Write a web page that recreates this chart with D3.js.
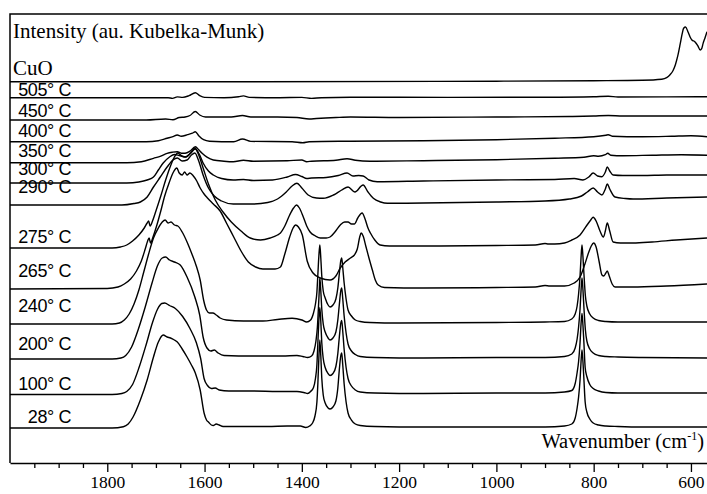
<!DOCTYPE html>
<html>
<head>
<meta charset="utf-8">
<script src="https://cdn.jsdelivr.net/npm/d3@7"></script>
<style>
  html, body { margin: 0; padding: 0; background: #fff; }
  svg { display: block; }
  .serif { font-family: "Liberation Serif", "Times New Roman", serif; }
  .sans { font-family: "Liberation Sans", Arial, sans-serif; }
</style>
</head>
<body>
<div id="chart"></div>
<script>
// Spectra: [wavenumber (cm-1), intensity above own baseline]
const cuo = [[2000,0],[1500,0],[1000,0.5],[800,1],[700,1.5],[660,2.5],[650,4],[643,7],[637,11],[632,17],[627,26],[622,38],[618,48],[615,53.5],[611,54.7],[606,49.7],[602,45],[598,41.7],[592,40],[586,36],[581,31.7],[578,33],[575,38.3],[571,44],[567,50]];
const t505 = [[2000,0],[1700,0],[1675,0],[1666,-0.7],[1656,0.8],[1645,0.3],[1632,2],[1619,5],[1610,2],[1600,0.3],[1560,0],[1530,1],[1520,1.8],[1508,0.3],[1450,0],[1400,0.3],[1380,-0.7],[1360,0],[1300,0.5],[1100,0.3],[900,0.5],[800,1],[770,1.5],[750,0.7],[650,0.8],[567,1]];
const t450 = [[2000,0],[1720,0],[1680,1],[1665,0.3],[1652,2.5],[1640,3],[1630,4.5],[1619,8.5],[1610,5],[1598,3],[1580,3],[1545,3],[1522,4.5],[1505,3],[1450,3],[1410,2.5],[1385,1],[1370,1.5],[1330,2.5],[1300,3],[1200,2.5],[1000,3],[850,3.5],[800,4],[770,4.5],[740,4],[650,4],[567,4]];
const t400 = [[2000,0],[1720,0],[1695,1],[1677,3.4],[1665,5],[1656,6.7],[1648,5.5],[1635,7],[1625,8.5],[1619,10],[1612,6],[1602,2],[1590,0.5],[1540,0],[1522,2.7],[1505,0.3],[1420,0],[1398,-1],[1385,0],[1300,0.5],[1150,1],[1000,2],[880,3.5],[800,5],[775,6.5],[770,7],[762,5.5],[700,5],[640,5.5],[600,6],[567,5]];
const t350 = [[2000,0],[1760,0],[1730,1],[1705,4.4],[1690,6.5],[1677,9.4],[1666,10.5],[1656,11],[1648,9.5],[1640,9.4],[1630,11.5],[1619,16],[1612,13],[1605,9.4],[1595,5.5],[1582,2.7],[1560,1.5],[1541,1],[1520,2.5],[1500,1.5],[1430,2],[1400,2.7],[1390,1],[1380,1.5],[1330,2.5],[1307,4],[1290,2.5],[1260,1.5],[1150,2],[1000,3],[880,4.5],[820,5.5],[800,7],[790,6.5],[776,8],[771,9.5],[765,7.5],[740,7],[680,7.5],[620,8],[567,7.5]];
const t300 = [[2000,0],[1760,0],[1735,1],[1718,3],[1705,6],[1695,13],[1685,20],[1672,26],[1662,28.5],[1652,27.5],[1640,26],[1630,29],[1619,34],[1611,29],[1603,20],[1592,12],[1582,8],[1565,4.5],[1541,3],[1520,3.5],[1500,2.5],[1460,3],[1430,6],[1413,8.5],[1400,6.5],[1390,4.5],[1380,5],[1350,5.5],[1325,7.5],[1307,10],[1295,7],[1283,7.5],[1274,7],[1262,3],[1245,1.3],[1150,2],[1000,3],[880,3.5],[840,4.5],[822,3],[810,6],[801,10],[792,7],[783,6.3],[776,11],[772,16],[767,12],[760,8],[740,7.5],[700,7.5],[650,8],[567,8]];
const t290 = [[2000,0],[1770,0],[1745,1.5],[1732,3],[1718,8],[1705,18],[1691,28],[1677,38],[1665,45],[1656,47],[1646,44],[1636,45],[1627,50],[1620,52],[1612,44],[1603,30],[1592,17],[1580,9],[1565,4],[1541,1],[1500,1],[1470,2.5],[1450,6],[1432,13],[1420,19],[1410,21.7],[1400,17],[1387,10],[1370,7],[1356,6.7],[1335,10],[1318,15],[1305,18],[1291,13],[1274,20],[1264,13],[1253,6.7],[1238,3],[1224,1.7],[1150,2],[1000,3],[900,4],[850,6],[825,9],[813,13],[801,17],[792,13],[783,10],[776,16],[772,21],[767,16],[756,8],[735,6.5],[719,6],[650,7],[567,8]];
const t275 = [[2000,0],[1790,0],[1773,1],[1760,3],[1748,7],[1735,13],[1724,20],[1718,25],[1715,27],[1712,22],[1707,27],[1700,37],[1690,52],[1680,68],[1670,82],[1662,91],[1655,95],[1647,92],[1638,91],[1629,95],[1620,100],[1612,93],[1603,80],[1592,64],[1578,48],[1562,36],[1545,26],[1525,17],[1506,10],[1485,8],[1465,10],[1450,13],[1444,15],[1435,22],[1425,33],[1417,40],[1411,43],[1405,40],[1397,31],[1390,22],[1383,16],[1372,12],[1362,10],[1350,10],[1342,11],[1332,16],[1321,23],[1312,26],[1305,26],[1298,24],[1292,24],[1285,30],[1276,35],[1270,29],[1264,20],[1259,15],[1250,8],[1239,3],[1220,2],[1136,2],[1000,2.5],[920,3],[900,4.5],[893,4],[880,4],[860,5],[845,8],[828,13],[815,22],[806,28],[801,30.7],[795,27],[787,17],[780,11],[776,17],[772,25],[767,17],[760,6],[745,5],[719,5],[680,6],[630,8],[567,10]];
const t265 = [[2000,0],[1800,0.5],[1778,2],[1765,5],[1752,10],[1740,18],[1730,28],[1722,40],[1717,48],[1714,51],[1711,46],[1706,52],[1698,64],[1690,78],[1682,93],[1673,106],[1665,116],[1657,121],[1652,116],[1646,114],[1641,117],[1636,114],[1630,116],[1623,113],[1616,108],[1609,101],[1601,95],[1594,91],[1582,85],[1568,78],[1555,66],[1540,52],[1525,38],[1510,27],[1495,22],[1480,20],[1455,20],[1444,22],[1435,35],[1425,52],[1418,61],[1413,64],[1407,62],[1399,54],[1389,28],[1377,16],[1362,11],[1342,9],[1330,13],[1321,21],[1311,27],[1300,31],[1292,34],[1286,40],[1281,52],[1278,56],[1274,53],[1268,42],[1262,31],[1255,19],[1249,9],[1243,4],[1230,1.5],[1150,1],[1000,1.5],[920,2],[900,3.5],[890,3],[860,3],[840,6],[828,12],[818,25],[810,37],[805,43],[800,46],[795,42],[789,28],[783,14],[779,13],[775,16],[772,18],[768,13],[762,5],[756,2],[720,2],[650,3],[567,5]];
const t240 = [[2000,0],[1790,0],[1775,1],[1765,4],[1755,10],[1745,20],[1735,34],[1725,52],[1715,70],[1705,86],[1695,96],[1687,102],[1681,104],[1675,101],[1669,102],[1662,99],[1655,98],[1646,92],[1636,82],[1626,70],[1617,58],[1609,44],[1602,24],[1596,14],[1590,11],[1583,11],[1576,9],[1568,6],[1555,4],[1520,3],[1480,3],[1450,4.5],[1420,5.7],[1400,4],[1390,2],[1382,4],[1376,11],[1372,20],[1369,32],[1367,50],[1365,68],[1363,79],[1361,66],[1359,48],[1356,33],[1352,26],[1346,19],[1342,17],[1336,19],[1330,25],[1326,36],[1323,50],[1320,63],[1318,66],[1316,57],[1313,41],[1309,25],[1305,14],[1298,8],[1290,4],[1280,2.5],[1260,1.5],[1200,1],[1000,1.5],[900,2],[860,2.5],[845,5],[838,10],[834,18],[831,30],[828,48],[826,66],[824,79],[822,67],[820,50],[817,28],[814,18],[808,10],[801,6],[790,3.5],[775,2.5],[750,2],[700,2],[567,2]];
const t200 = [[2000,0],[1790,0],[1772,1],[1762,3.5],[1750,12],[1736,30],[1722,52],[1708,76],[1697,93],[1687,101],[1680,102],[1672,99],[1662,97],[1650,94],[1636,82],[1620,62],[1610,44],[1603,22],[1595,11],[1587,8],[1580,9],[1572,6],[1560,3.5],[1500,3],[1440,3],[1410,3.5],[1398,2.5],[1388,1.5],[1380,3],[1375,8],[1371,18],[1368,32],[1366,50],[1364,70],[1363,81],[1361,68],[1359,50],[1356,35],[1352,27],[1346,21],[1342,19],[1336,21],[1330,27],[1326,39],[1323,54],[1320,68],[1318,71],[1316,61],[1313,43],[1309,26],[1305,15],[1298,8],[1290,4.5],[1280,2.5],[1250,1.5],[1150,1],[1000,1.5],[900,1.5],[860,2.5],[845,5],[838,11],[834,20],[831,32],[828,50],[826,68],[824,81],[822,69],[820,51],[817,29],[814,18],[808,10],[801,6],[790,3.5],[775,2.5],[750,2],[700,1.5],[567,1]];
const t100 = [[2000,0],[1790,0],[1770,1],[1760,3],[1748,10],[1734,28],[1720,50],[1707,72],[1697,85],[1688,91],[1682,91.5],[1672,89],[1660,86],[1645,78],[1630,66],[1617,52],[1608,36],[1601,16],[1594,9],[1586,6],[1578,6.5],[1570,4.5],[1550,3.5],[1500,3.5],[1450,3],[1410,3],[1396,2],[1388,1],[1382,3],[1376,7],[1372,16],[1369,30],[1367,52],[1365,74],[1363,87],[1361,73],[1359,52],[1356,36],[1352,27],[1346,21],[1342,19],[1336,21],[1330,28],[1326,41],[1323,57],[1320,71],[1318,74],[1316,64],[1313,45],[1309,27],[1305,16],[1298,8.5],[1290,4.5],[1280,2.5],[1250,1.5],[1150,1],[1000,1.5],[900,1.5],[860,2.5],[845,4],[838,11],[834,22],[831,33],[828,52],[826,70],[824,81],[822,69],[820,51],[817.5,27],[814,18],[808,10],[801,6],[790,3.5],[775,2],[750,1.5],[700,1.5],[567,1.5]];
const t28 = [[2000,0],[1790,0],[1767,1.3],[1757,4],[1747,11],[1732,28],[1718,48],[1705,71],[1695,86],[1685,93],[1677,91],[1670,90],[1662,88],[1656,86],[1646,79],[1636,71],[1627,63],[1619,55],[1609,38],[1601,15],[1596,8],[1592,6],[1586,3],[1582,2.5],[1576,4],[1570,3],[1562,1.5],[1500,1.5],[1470,1.5],[1430,2],[1403,2],[1392,0.5],[1384,2],[1378,5],[1373,12],[1369,26],[1367,45],[1365,70],[1363,88],[1361,72],[1359,50],[1356,33],[1352,25],[1346,20],[1342,19],[1336,21],[1330,27],[1326,40],[1323,58],[1320,72],[1318,75],[1316,64],[1313,44],[1309,26],[1305,15],[1298,8],[1290,4],[1280,2.5],[1250,1.5],[1150,1],[1000,1],[900,1],[860,2],[845,4],[838,10],[834,20],[831,31],[828,48],[826,66],[824,78],[822,66],[820,48],[817.5,26],[814,16],[808,9],[801,5],[790,3],[775,2],[750,1.5],[700,1],[567,1]];

// Stack order, label text and vertical offset of each spectrum (same units as intensity)
const names = ['CuO', '505° C', '450° C', '400° C', '350° C', '300° C', '290° C', '275° C', '265° C', '240° C', '200° C', '100° C', '28° C'];
const offsets = [381.3, 365.3, 343, 321.3, 300.3, 280, 258, 215, 174, 139, 104, 68.5, 35];
const series = [cuo, t505, t450, t400, t350, t300, t290, t275, t265, t240, t200, t100, t28];

const majorTicks = [1800, 1600, 1400, 1200, 1000, 800, 600];
const minorTicks = [1950, 1900, 1850, 1750, 1700, 1650, 1550, 1500, 1450, 1350, 1300, 1250, 1150, 1100, 1050, 950, 900, 850, 750, 700, 650];

// Layout
const width = 707, height = 494;
const plotLeft = 10, plotTop = 14, plotBottom = 463;
// how far each temperature label's baseline sits above its spectrum
const labelLift = [0, 1.7, 3, 4.7, 5.7, 8, 12, 5, 12, 12, 9, 4.5, 5];

const svg = d3.select('#chart')
  .append('svg')
  .attr('width', width)
  .attr('height', height);

const x = d3.scaleLinear().domain([2000, 567]).range([plotLeft, width]);
const y = d3.scaleLinear().domain([0, plotBottom - plotTop]).range([plotBottom, plotTop]);

// Frame: left and top edges
svg.append('path')
  .attr('d', `M${plotLeft},${plotBottom}V${plotTop}H${width}`)
  .attr('fill', 'none')
  .attr('stroke', '#000')
  .attr('stroke-width', 1.5);

// Axis
const gX = svg.append('g')
  .attr('transform', `translate(0,${plotBottom})`)
  .call(d3.axisBottom(x).tickValues(majorTicks).tickFormat(d3.format('d'))
    .tickSize(9).tickSizeOuter(0).tickPadding(4));
gX.select('.domain').attr('stroke-width', 1.5);
gX.selectAll('.tick line').attr('stroke-width', 1.3);
gX.selectAll('.tick text')
  .attr('class', 'serif')
  .attr('font-size', 17.5)
  .attr('fill', '#000');

svg.append('g')
  .attr('transform', `translate(0,${plotBottom})`)
  .call(d3.axisBottom(x).tickValues(minorTicks).tickSize(5).tickSizeOuter(0).tickFormat(''))
  .call(g => g.select('.domain').remove())
  .selectAll('.tick line').attr('stroke-width', 1.3);

// Spectra
const line = d3.line()
  .x(d => x(d[0]))
  .y(d => d[1])
  .curve(d3.curveMonotoneX);

svg.append('g')
  .selectAll('path')
  .data(series)
  .enter()
  .append('path')
  .attr('d', (s, i) => line(s.map(p => [p[0], y(offsets[i] + p[1])])))
  .attr('fill', 'none')
  .attr('stroke', '#000')
  .attr('stroke-width', 1.4)
  .attr('stroke-linejoin', 'round');

// Texts
svg.append('text')
  .attr('class', 'serif')
  .attr('x', 13)
  .attr('y', 38)
  .attr('font-size', 21)
  .text('Intensity (au. Kubelka-Munk)');

svg.append('text')
  .attr('class', 'serif')
  .attr('x', 13)
  .attr('y', y(offsets[0]) - 7)
  .attr('font-size', 21)
  .text(names[0]);

svg.append('g')
  .selectAll('text')
  .data(names.slice(1))
  .enter()
  .append('text')
  .attr('class', 'sans')
  .attr('x', 71)
  .attr('y', (d, i) => y(offsets[i + 1] + labelLift[i + 1]))
  .attr('text-anchor', 'end')
  .attr('font-size', 18)
  .attr('letter-spacing', -0.4)
  .text(d => d);

const xl = svg.append('text')
  .attr('class', 'serif')
  .attr('x', 704)
  .attr('y', 448)
  .attr('text-anchor', 'end')
  .attr('font-size', 20.5);
xl.append('tspan').text('Wavenumber (cm');
xl.append('tspan').attr('font-size', 12).attr('dy', -8).text('-1');
xl.append('tspan').attr('dy', 8).text(')');
</script>
</body>
</html>
